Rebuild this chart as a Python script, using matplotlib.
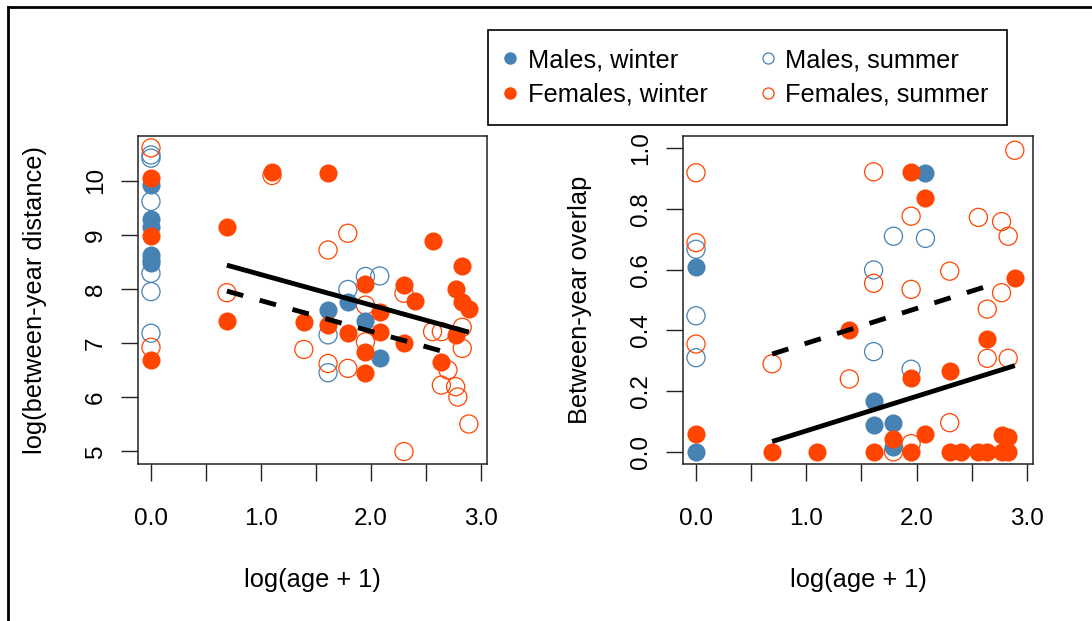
import matplotlib.pyplot as plt
from matplotlib.lines import Line2D

plt.rcParams["font.family"] = ["Liberation Sans", "DejaVu Sans"]
plt.rcParams["font.size"] = 17.5

BLUE = "#4682B4"
ORANGE = "#FF4500"

# ---- left panel: log(between-year distance) ----
dist_mw_x = [0, 0, 0, 0, 0, 0, 1.79, 1.61, 1.95, 2.08]
dist_mw_y = [9.93, 9.30, 9.15, 8.63, 8.54, 8.48, 7.75, 7.61, 7.40, 6.72]

dist_ms_x = [0, 0, 0, 0, 0, 0, 1.95, 2.08, 1.79, 1.61, 1.61]
dist_ms_y = [10.48, 10.42, 9.62, 8.29, 7.95, 7.18, 8.23, 8.24, 7.99, 7.15, 6.45]

dist_fw_x = [0, 0, 0, 1.10, 1.61, 0.69, 0.69, 2.56, 2.83, 1.95, 2.30, 2.40, 2.77,
             2.83, 2.89, 2.08, 1.39, 1.61, 1.79, 2.08, 2.30, 2.77, 1.95, 2.64, 1.95]
dist_fw_y = [10.05, 8.98, 6.69, 10.17, 10.15, 9.14, 7.41, 8.89, 8.43, 8.09, 8.07, 7.78, 7.99,
             7.76, 7.62, 7.58, 7.38, 7.33, 7.19, 7.21, 6.99, 7.14, 6.84, 6.64, 6.44]

dist_fs_x = [0, 0, 1.10, 0.69, 1.79, 1.61, 2.30, 1.95, 1.95, 2.56, 2.64, 2.83, 2.83,
             1.39, 2.70, 1.61, 1.79, 2.64, 2.77, 2.79, 2.89, 2.30]
dist_fs_y = [10.61, 6.92, 10.10, 7.93, 9.03, 8.72, 7.92, 7.70, 7.02, 7.21, 7.21, 7.29, 6.90,
             6.88, 6.50, 6.62, 6.53, 6.22, 6.19, 6.00, 5.50, 4.99]

dist_fit_w_x = [0.69, 2.89]
dist_fit_w_y = [8.44, 7.20]
dist_fit_s_x = [0.69, 2.73]
dist_fit_s_y = [7.96, 6.80]

# ---- right panel: between-year overlap ----
ovl_mw_x = [0, 0, 1.61, 1.61, 1.79, 1.79, 2.08]
ovl_mw_y = [0.61, 0.0, 0.168, 0.089, 0.094, 0.017, 0.919]

ovl_ms_x = [0, 0, 0, 1.61, 1.61, 1.79, 1.95, 2.08]
ovl_ms_y = [0.667, 0.448, 0.31, 0.599, 0.33, 0.71, 0.272, 0.703]

ovl_fw_x = [0, 0.69, 1.10, 1.39, 1.61, 1.79, 1.95, 1.95, 1.95, 2.08, 2.08, 2.30, 2.30,
            2.40, 2.56, 2.64, 2.64, 2.77, 2.77, 2.83, 2.83, 2.89]
ovl_fw_y = [0.059, 0.0, 0.0, 0.40, 0.0, 0.042, 0.922, 0.242, 0.0, 0.837, 0.059, 0.267, 0.0,
            0.0, 0.0, 0.37, 0.0, 0.055, 0.0, 0.05, 0.0, 0.573]

ovl_fs_x = [0, 0, 0, 0.69, 1.39, 1.61, 1.61, 1.79, 1.95, 1.95, 1.95, 2.30, 2.30,
            2.56, 2.64, 2.64, 2.77, 2.77, 2.83, 2.83, 2.89]
ovl_fs_y = [0.919, 0.689, 0.355, 0.29, 0.24, 0.922, 0.555, 0.0, 0.776, 0.535, 0.027, 0.595, 0.096,
            0.772, 0.47, 0.308, 0.758, 0.524, 0.71, 0.308, 0.993]

ovl_fit_w_x = [0.69, 2.89]
ovl_fit_w_y = [0.034, 0.284]
ovl_fit_s_x = [0.69, 2.74]
ovl_fit_s_y = [0.322, 0.557]

legend_labels = ["Males, winter", "Females, winter", "Males, summer", "Females, summer"]

W, H = 1092, 621
LABEL_SIZE = 18.3
fig = plt.figure(figsize=(W / 100, H / 100), dpi=100)


def panel(rect, groups, fits, ylim, yticks, yticklabels, ylabel, ylabelpad):
    ax = fig.add_axes(rect)
    s = 170
    ms_x, ms_y, fs_x, fs_y, mw_x, mw_y, fw_x, fw_y = groups
    ax.scatter(ms_x, ms_y, s=s, facecolors="none", edgecolors=BLUE, linewidths=0.9, zorder=2)
    ax.scatter(fs_x, fs_y, s=s, facecolors="none", edgecolors=ORANGE, linewidths=0.9, zorder=2)
    ax.scatter(mw_x, mw_y, s=s, color=BLUE, linewidths=0, zorder=3)
    ax.scatter(fw_x, fw_y, s=s, color=ORANGE, linewidths=0, zorder=3)
    (wx, wy), (sx, sy) = fits
    ax.plot(wx, wy, color="black", lw=3.5, solid_capstyle="butt", zorder=4)
    ax.plot(sx, sy, color="black", lw=3.5, ls=(0, (3.5, 3.5)), dash_capstyle="butt", zorder=4)

    ax.set_xlim(-0.118, 3.055)
    ax.set_ylim(*ylim)
    ax.set_xticks([0, 0.5, 1.0, 1.5, 2.0, 2.5, 3.0])
    ax.set_xticklabels(["0.0", "", "1.0", "", "2.0", "", "3.0"])
    ax.set_yticks(yticks)
    ax.set_yticklabels(yticklabels)
    ax.tick_params(axis="both", direction="out", length=12, width=1, color="#222222")
    ax.tick_params(axis="x", pad=20)
    ax.tick_params(axis="y", pad=10.5, labelrotation=90)
    for lab in ax.get_yticklabels():
        lab.set_va("center")
    for sp in ax.spines.values():
        sp.set_linewidth(1.1)
        sp.set_color("#222222")
    ax.set_xlabel("log(age + 1)", labelpad=27, fontsize=LABEL_SIZE)
    ax.set_ylabel(ylabel, labelpad=ylabelpad, fontsize=LABEL_SIZE)
    return ax


ax1 = panel([138 / W, 1 - 464 / H, 349 / W, 328 / H],
            (dist_ms_x, dist_ms_y, dist_fs_x, dist_fs_y,
             dist_mw_x, dist_mw_y, dist_fw_x, dist_fw_y),
            ((dist_fit_w_x, dist_fit_w_y), (dist_fit_s_x, dist_fit_s_y)),
            (4.76, 10.83), [5, 6, 7, 8, 9, 10], ["5", "6", "7", "8", "9", "10"],
            "log(between-year distance)", 27)

ax2 = panel([683 / W, 1 - 464 / H, 350 / W, 328 / H],
            (ovl_ms_x, ovl_ms_y, ovl_fs_x, ovl_fs_y,
             ovl_mw_x, ovl_mw_y, ovl_fw_x, ovl_fw_y),
            ((ovl_fit_w_x, ovl_fit_w_y), (ovl_fit_s_x, ovl_fit_s_y)),
            (-0.04, 1.04), [0, 0.2, 0.4, 0.6, 0.8, 1.0],
            ["0.0", "0.2", "0.4", "0.6", "0.8", "1.0"],
            "Between-year overlap", 27.5)

# legend
handles = [
    Line2D([], [], ls="none", marker="o", ms=9, color=BLUE, mew=0),
    Line2D([], [], ls="none", marker="o", ms=9, color=ORANGE, mew=0),
    Line2D([], [], ls="none", marker="o", ms=8, mfc="none", mec=BLUE, mew=0.9),
    Line2D([], [], ls="none", marker="o", ms=8, mfc="none", mec=ORANGE, mew=0.9),
]
leg = fig.legend(handles, legend_labels, ncol=2, loc="upper left",
                 bbox_to_anchor=(488 / W, 1 - 30 / H), borderaxespad=0,
                 fancybox=False, edgecolor="black", framealpha=1,
                 handlelength=0.3, handletextpad=0.55, columnspacing=2.2,
                 labelspacing=0.42, borderpad=0.72, fontsize=LABEL_SIZE)
leg.get_frame().set_linewidth(1.2)

# frame from the screenshot (left and top edges only)
fig.add_artist(Line2D([8 / W, 8 / W], [0, 1 - 7 / H], color="black", lw=2,
                      transform=fig.transFigure))
fig.add_artist(Line2D([8 / W, 1], [1 - 7 / H, 1 - 7 / H], color="black", lw=2,
                      transform=fig.transFigure))

fig.savefig("out.png", dpi=100)
